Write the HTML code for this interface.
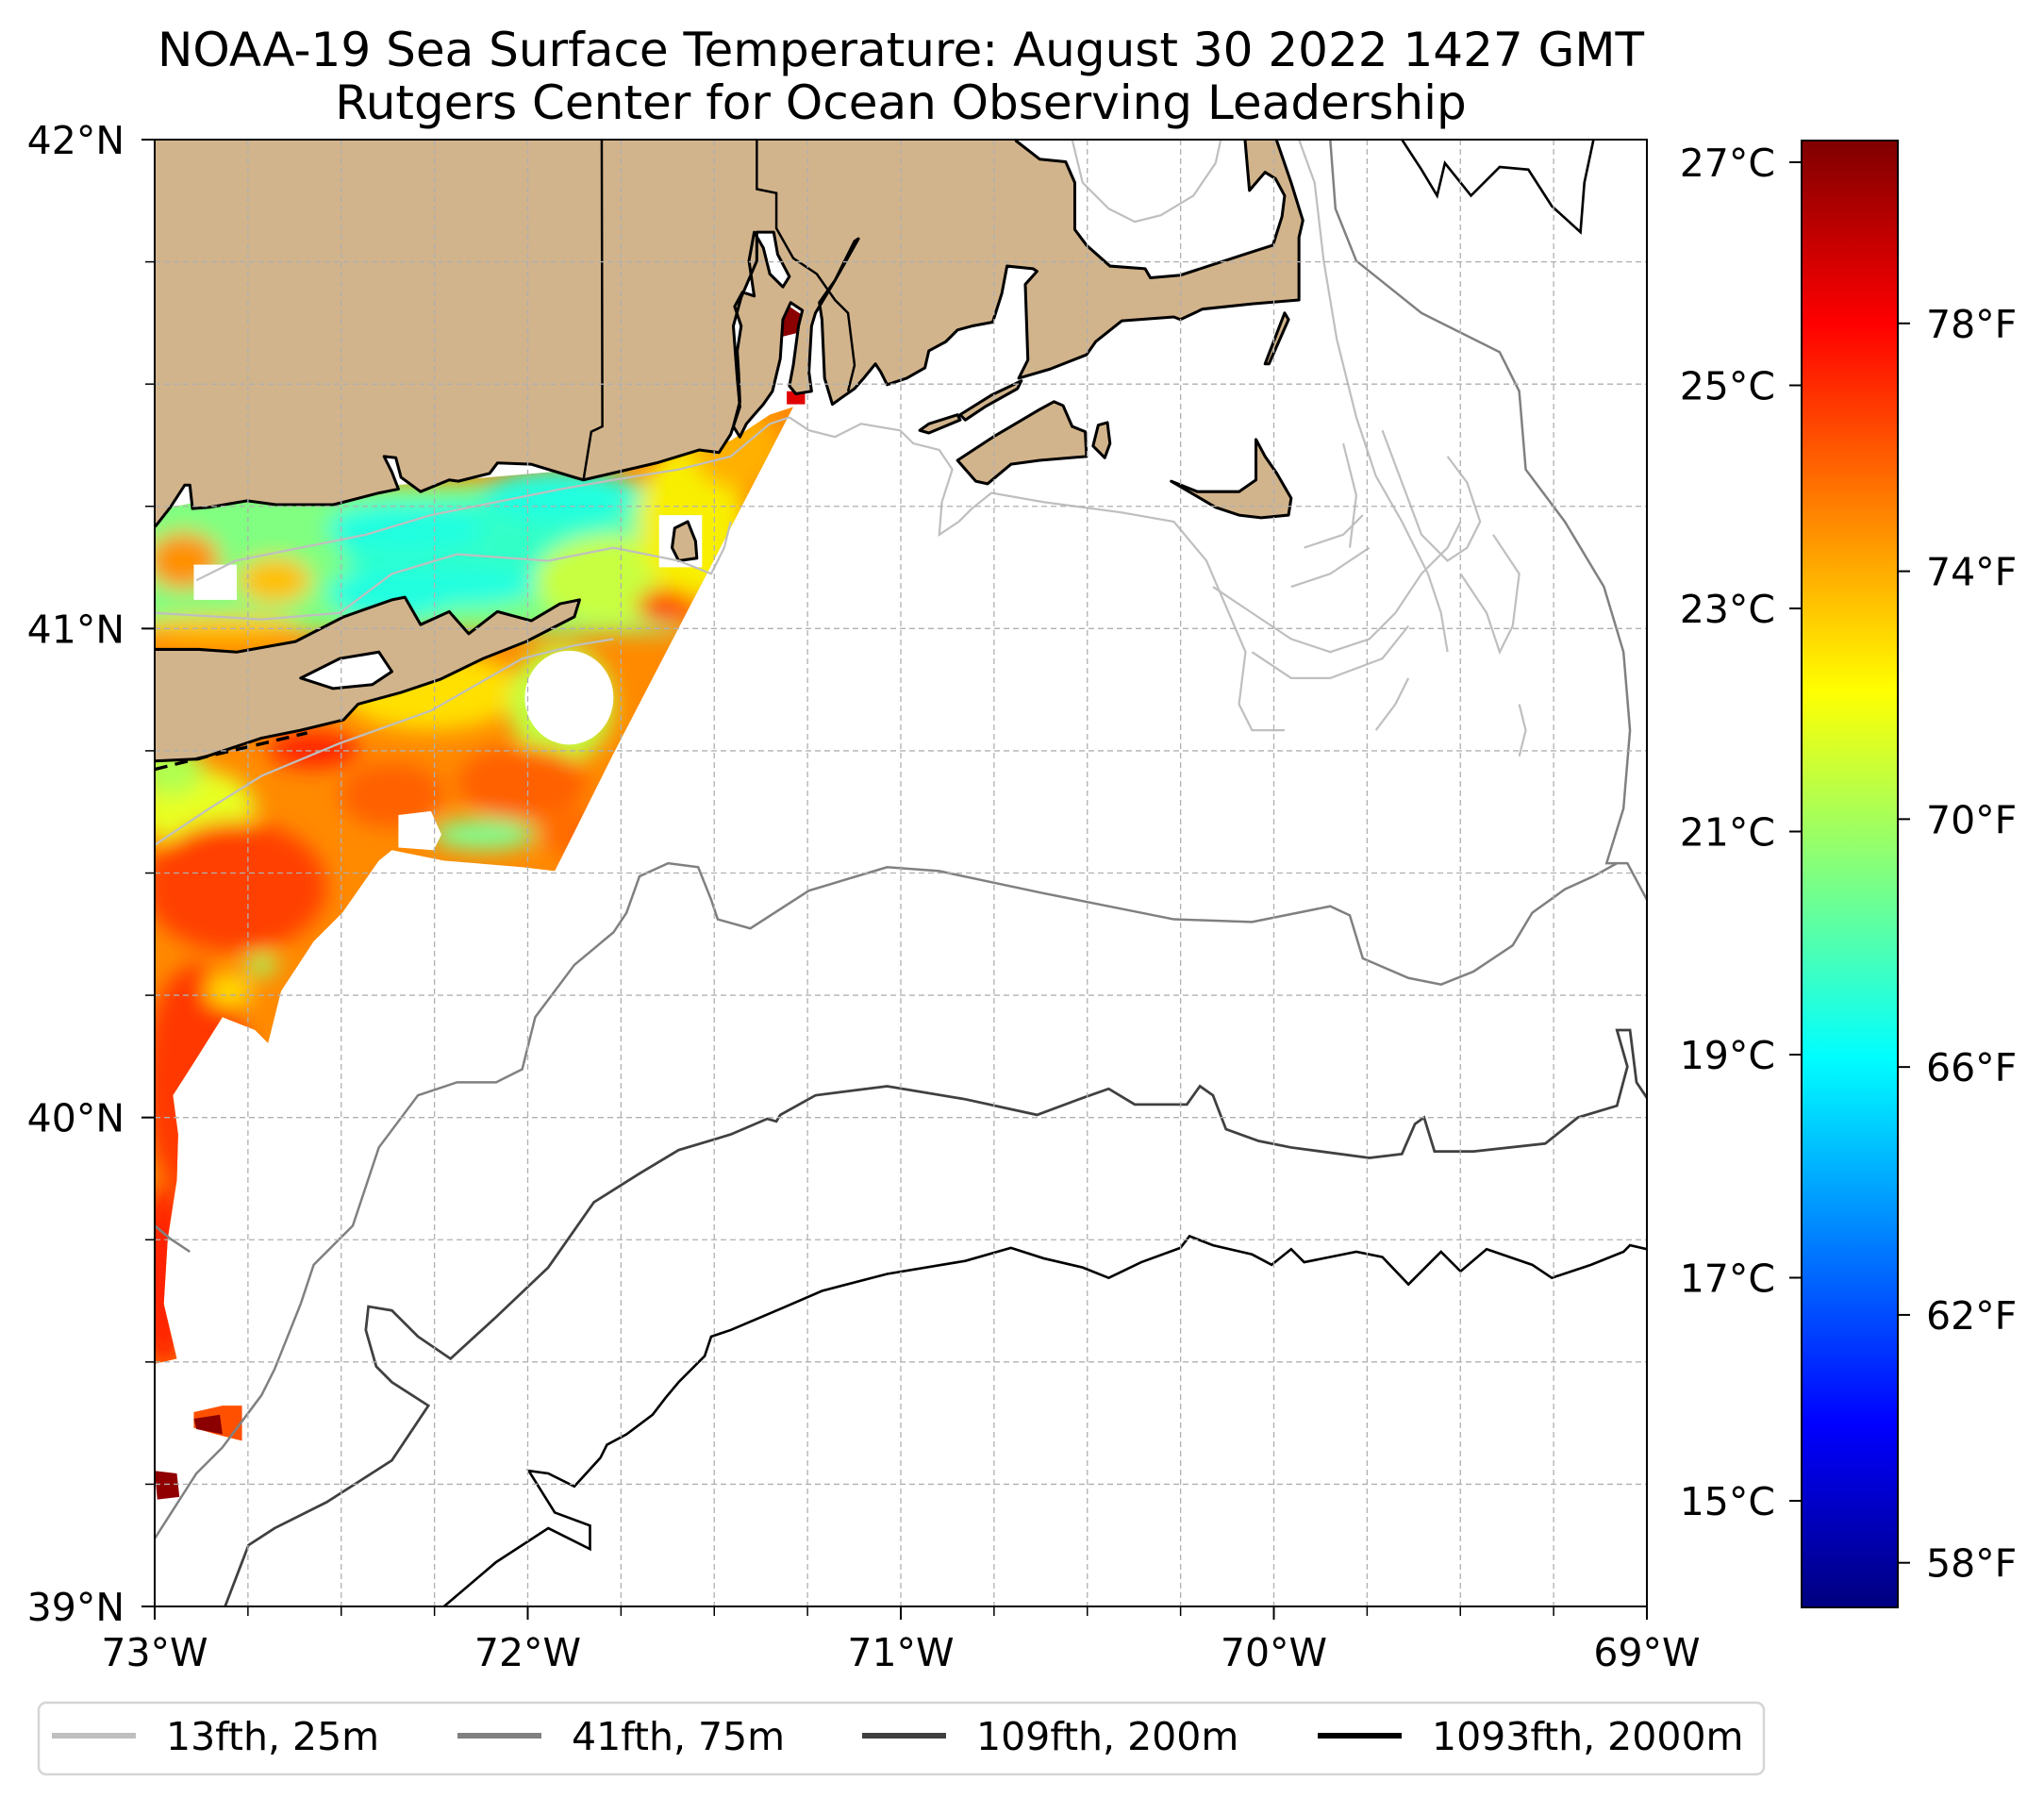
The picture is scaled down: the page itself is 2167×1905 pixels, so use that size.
<!DOCTYPE html>
<html><head><meta charset="utf-8"><style>
html,body{margin:0;padding:0;background:#fff;}
svg{display:block;font-family:"DejaVu Sans","Liberation Sans",sans-serif;}
</style></head>
<body>
<svg id="fig" width="2167" height="1905" viewBox="0 0 2167 1905" xmlns="http://www.w3.org/2000/svg">
<defs>
  <linearGradient id="jet" x1="0" y1="1" x2="0" y2="0">
    <stop offset="0" stop-color="#00007f"/>
    <stop offset="0.125" stop-color="#0000ff"/>
    <stop offset="0.375" stop-color="#00ffff"/>
    <stop offset="0.5" stop-color="#80ff80"/>
    <stop offset="0.625" stop-color="#ffff00"/>
    <stop offset="0.875" stop-color="#ff0000"/>
    <stop offset="1" stop-color="#7f0000"/>
  </linearGradient>
  <clipPath id="axclip"><rect x="164" y="148" width="1582" height="1555"/></clipPath>
  <clipPath id="sstclip">
    <path d="M118,392 L150,385 L445,360 L560,338 L590,318 L608,312 L470,578 L425,668 L400,665 L340,660 L300,652 L290,660 L262,700 L240,722 L215,760 L205,800 L195,790 L170,780 L148,815 L132,840 L136,870 L135,905 L128,950 L125,1000 L135,1042 L118,1046 Z"/>
  </clipPath>
  <filter id="blur" x="-50%" y="-50%" width="200%" height="200%"><feGaussianBlur stdDeviation="8"/></filter>
</defs>

<text x="955" y="70" font-size="50" text-anchor="middle">NOAA-19 Sea Surface Temperature: August 30 2022 1427 GMT</text>
<text x="955" y="126" font-size="50" text-anchor="middle">Rutgers Center for Ocean Observing Leadership</text>

<g clip-path="url(#axclip)">
 <g transform="translate(164,148) scale(1.3817,1.3822) translate(-118,-107)">
  <g clip-path="url(#sstclip)">
    <rect x="100" y="300" width="520" height="760" fill="#ff8a00"/>
    <g filter="url(#blur)">
      <rect x="100" y="370" width="420" height="115" fill="#80ff80"/>
      <ellipse cx="380" cy="420" rx="120" ry="38" fill="#30ffc8"/>
      <ellipse cx="310" cy="405" rx="60" ry="20" fill="#20ffe0"/>
      <ellipse cx="430" cy="380" rx="60" ry="20" fill="#20ffe0"/>
      <ellipse cx="350" cy="450" rx="60" ry="15" fill="#20ffe0"/>
      <ellipse cx="470" cy="445" rx="60" ry="35" fill="#c8ff40"/>
      <ellipse cx="300" cy="455" rx="50" ry="20" fill="#20ffe0"/>
      <ellipse cx="530" cy="400" rx="40" ry="60" fill="#f8f000"/>
      <ellipse cx="565" cy="345" rx="35" ry="30" fill="#ffb000"/>
      <ellipse cx="510" cy="465" rx="22" ry="14" fill="#ff5000"/>
      <ellipse cx="140" cy="430" rx="28" ry="22" fill="#ff9000"/>
      <ellipse cx="210" cy="445" rx="28" ry="18" fill="#ffc000"/>
      <ellipse cx="170" cy="482" rx="60" ry="10" fill="#ffc000"/>
      <ellipse cx="330" cy="530" rx="70" ry="30" fill="#ffe000"/>
      <ellipse cx="430" cy="540" rx="40" ry="45" fill="#c0ff40"/>
      <ellipse cx="150" cy="620" rx="45" ry="30" fill="#e8ff20"/>
      <ellipse cx="130" cy="590" rx="25" ry="20" fill="#b0ff50"/>
      <ellipse cx="370" cy="640" rx="40" ry="12" fill="#80ff90"/>
      <ellipse cx="240" cy="575" rx="35" ry="14" fill="#ff2800"/>
      <ellipse cx="180" cy="680" rx="70" ry="50" fill="#ff4000"/>
      <ellipse cx="300" cy="610" rx="40" ry="25" fill="#ff6000"/>
      <ellipse cx="400" cy="600" rx="50" ry="28" fill="#ff6000"/>
      <ellipse cx="440" cy="640" rx="25" ry="18" fill="#ff6a00"/>
      <ellipse cx="150" cy="830" rx="40" ry="90" fill="#ff3800"/>
      <ellipse cx="125" cy="980" rx="20" ry="70" fill="#ff2000"/>
      <ellipse cx="175" cy="760" rx="18" ry="12" fill="#ffe000"/>
      <ellipse cx="200" cy="740" rx="12" ry="8" fill="#a0ff60"/>
    </g>
    <rect x="148" y="433" width="33" height="27" fill="#fff"/>
    <ellipse cx="436" cy="535" rx="34" ry="36" fill="#fff"/>
    <path d="M305,625 L330,622 L338,640 L332,652 L305,650 Z" fill="#fff"/>
    <rect x="505" y="395" width="33" height="40" fill="#fff"/>
  </g>
  <path d="M148,1083 L170,1078 L185,1078 L185,1105 L165,1100 L148,1095 Z" fill="#ff5000"/>
  <path d="M148,1088 L168,1085 L170,1100 L150,1096 Z" fill="#8b0000"/>
  <path d="M118,1128 L135,1130 L137,1148 L120,1150 Z" fill="#900000"/>
  <path d="M570,228 L590,225 L605,235 L620,245 L612,255 L600,258 L598,280 L590,292 L580,290 L578,270 L572,250 Z" fill="#8b0000"/>
  <rect x="603" y="300" width="14" height="10" fill="#e00000"/>

  <g fill="#d2b48c" stroke="#000" stroke-width="2.2" stroke-linejoin="round">
   <path d="M110,100 L779,100 L779,108 L797,122 L817,124 L824,140 L824,176 L833,188 L851,204 L878,206 L882,213 L905,211 L954,195 L976,188 L983,166 L985,150 L978,137 L970,132 L958,146 L954,100 L979,100 L979,108 L990,140 L999,169 L996,182 L996,230 L960,233 L922,237 L905,245 L900,243 L860,246 L840,262 L833,272 L805,283 L781,290 L788,276 L786,218 L795,208 L792,206 L772,204 L768,225 L761,247 L745,250 L734,253 L725,262 L712,269 L709,282 L695,290 L680,295 L675,285 L671,279 L662,290 L655,298 L645,305 L638,310 L632,290 L630,245 L628,232 L640,215 L655,185 L658,183 L640,215 L625,240 L622,250 L620,285 L622,300 L610,302 L605,296 L608,280 L612,250 L615,238 L606,232 L600,245 L598,275 L592,300 L585,310 L578,318 L572,325 L567,335 L562,327 L567,308 L566,285 L565,269 L568,250 L563,235 L569,224 L578,227 L574,200 L578,178 L585,190 L590,210 L600,220 L605,212 L596,195 L593,178 L580,178 L580,200 L568,228 L562,250 L565,290 L567,312 L560,333 L551,347 L536,345 L503,355 L447,368 L440,366 L407,356 L381,355 L375,363 L351,369 L344,368 L322,377 L307,366 L303,351 L294,350 L300,362 L305,375 L290,378 L263,385 L255,387 L211,387 L189,384 L160,389 L147,390 L145,372 L141,372 L130,389 L119,403 L110,410 Z"/>
   <path d="M110,498 L152,498 L181,500 L226,492 L263,473 L300,460 L310,458 L322,479 L344,469 L359,486 L381,469 L407,476 L429,463 L444,460 L440,473 L403,492 L370,505 L337,521 L307,531 L274,540 L263,552 L230,560 L200,566 L170,576 L152,582 L110,584 Z"/>
   <path d="M230,520 L260,505 L290,500 L300,515 L285,525 L255,528 Z" fill="#fff"/>
   <path d="M517,405 L527,400 L533,415 L534,428 L520,430 L515,420 Z"/>
   <path d="M734,353 L748,369 L757,371 L775,356 L797,353 L833,350 L832,331 L822,327 L815,311 L808,308 L797,314 L775,327 L763,334 Z"/>
   <path d="M842,326 L849,324 L851,340 L847,351 L838,342 Z"/>
   <path d="M898,369 L918,377 L950,377 L963,368 L963,337 L970,350 L979,363 L990,382 L988,395 L967,397 L950,395 L932,389 Z"/>
   <path d="M705,330 L712,325 L734,318 L736,322 L712,332 Z M736,318 L760,303 L783,292 L780,298 L755,312 L740,322 Z"/>
   <path d="M970,279 L985,240 L988,245 L973,279 Z"/>
  </g>
  <path d="M461,100 L461.5,327 L453,331 L447,368" fill="none" stroke="#000" stroke-width="1.8"/>
  <path d="M580,100 L580,145 L595,148 L595,175 L608,198 L626,210 L640,230 L650,240 L655,280 L650,300" fill="none" stroke="#000" stroke-width="1.8"/>
  <path d="M118,590 L150,582 L180,575 L210,568 L235,562" fill="none" stroke="#000" stroke-width="2.5" stroke-dasharray="10,6"/>

  <g fill="none" stroke="#bfbfbf" stroke-width="1.6">
   <path d="M118,648 L160,620 L200,595 L260,570 L330,545 L400,505 L440,495 L470,490"/>
   <path d="M150,445 L180,430 L230,420 L280,410 L330,395 L380,385 L430,375 L470,368 L520,360 L560,350 L590,325 L605,320"/>
   <path d="M118,470 L200,475 L260,470 L300,440 L350,425 L420,430 L470,420 L520,430 L545,440 L555,420 L560,400"/>
   <path d="M605,320 L620,330 L640,335 L660,325 L690,330 L700,340 L720,345 L730,360 L722,385 L720,410 L735,400 L745,390 L760,378 L800,385 L860,393 L900,400 L925,430 L940,465 L955,500 L950,540 L960,560 L985,560"/>
   <path d="M822,107 L830,140 L850,160 L870,170 L890,165 L915,150 L932,125 L936,107"/>
   <path d="M996,107 L1008,140 L1015,200 L1025,260 L1040,320 L1055,365 L1075,400 L1095,440 L1105,470 L1110,500"/>
   <path d="M930,450 L960,470 L990,490 L1020,500 L1050,490 L1070,470 L1090,440 L1110,420 L1120,400"/>
   <path d="M960,500 L990,520 L1020,520 L1060,505 L1080,480"/>
   <path d="M1030,340 L1040,380 L1035,420 M1060,330 L1075,370 L1090,410 L1110,430 L1125,420 L1135,400 L1125,370 L1110,350"/>
   <path d="M1120,440 L1140,470 L1150,500 L1160,480 L1165,440 L1145,410"/>
   <path d="M1000,420 L1030,410 L1045,395 M990,450 L1020,440 L1050,420"/>
   <path d="M1165,540 L1170,560 L1165,580 M1055,560 L1070,540 L1080,520"/>
  </g>
  <g fill="none" stroke="#808080" stroke-width="1.8">
   <path d="M1020,107 L1024,160 L1040,200 L1090,240 L1150,270 L1165,300 L1170,360 L1200,400 L1230,450 L1245,500 L1250,560 L1245,620 L1232,662 L1248,662 L1263,690"/>
   <path d="M118,1180 L150,1130 L170,1110 L200,1070 L210,1050 L230,1000 L240,970 L270,940 L290,880 L320,840 L350,830 L380,830 L400,820 L410,780 L440,740 L470,715 L480,700 L490,672 L512,662 L535,665 L545,690 L550,705 L575,712 L620,683 L680,665 L720,668 L800,685 L900,705 L960,707 L1020,695 L1035,702 L1045,735 L1080,750 L1105,755 L1130,745 L1160,725 L1175,700 L1200,682 L1222,672 L1240,662"/>
   <path d="M118,940 L130,950 L145,960"/>
  </g>
  <g fill="none" stroke="#404040" stroke-width="2">
   <path d="M172,1232 L190,1185 L210,1172 L250,1152 L300,1120 L328,1078 L300,1060 L288,1048 L280,1020 L282,1002 L300,1005 L320,1025 L345,1042 L380,1010 L420,972 L455,922 L490,900 L520,882 L560,870 L588,858 L595,860 L598,855 L625,840 L680,833 L740,843 L795,855 L830,842 L850,835 L870,847 L910,847 L920,833 L930,840 L940,866 L965,875 L990,880 L1050,888 L1075,885 L1085,862 L1092,857 L1100,883 L1130,883 L1185,877 L1210,857 L1240,848 L1248,818 L1240,790 L1250,790 L1255,830 L1263,842"/>
  </g>
  <g fill="none" stroke="#000" stroke-width="1.9">
   <path d="M340,1232 L380,1198 L420,1172 L452,1188 L452,1170 L425,1160 L405,1128 L420,1130 L440,1140 L460,1118 L465,1108 L480,1100 L500,1085 L510,1072 L520,1060 L540,1040 L545,1025 L560,1020 L600,1003 L630,990 L680,977 L740,967 L775,957 L800,965 L830,972 L850,980 L875,968 L905,957 L912,948 L930,955 L960,962 L975,970 L990,958 L1000,968 L1040,960 L1060,964 L1080,985 L1095,970 L1105,960 L1120,975 L1140,958 L1175,970 L1190,980 L1220,970 L1245,960 L1250,955 L1263,958"/>
   <path d="M1075,107 L1090,130 L1102,150 L1108,125 L1128,150 L1150,128 L1172,130 L1190,158 L1212,178 L1215,140 L1222,107"/>
  </g>
 </g>
</g>

<g id="grid"></g>
<rect x="164" y="148" width="1582" height="1555" fill="none" stroke="#000" stroke-width="2"/>
<g id="axes"></g>

<rect x="1910" y="149" width="102" height="1555" fill="url(#jet)" stroke="#000" stroke-width="2"/>
<g id="cbar"></g>

<rect x="41" y="1805" width="1829" height="76" rx="8" fill="#fff" stroke="#d5d5d5" stroke-width="2.5"/>
<g id="legend"></g>

<script>
const lonTicks = [-73, -72, -71, -70, -69];
const latTicks = [42, 41, 40, 39];
const celsiusTicks = [15, 17, 19, 21, 23, 25, 27];
const fahrenheitTicks = [58, 62, 66, 70, 74, 78];
const legendLabels = ["13fth, 25m", "41fth, 75m", "109fth, 200m", "1093fth, 2000m"];
const legendColors = ["#bfbfbf", "#808080", "#404040", "#000000"];

const NS = "http://www.w3.org/2000/svg";
const ax = {x0:164, x1:1746, y0:148, y1:1703, lonMin:-73, lonMax:-69, latMin:39, latMax:42};
function xLon(l){return ax.x0 + (l-ax.lonMin)/(ax.lonMax-ax.lonMin)*(ax.x1-ax.x0);}
function yLat(l){return ax.y1 - (l-ax.latMin)/(ax.latMax-ax.latMin)*(ax.y1-ax.y0);}
const cb = {fMin:57.28, fMax:80.95, y0:149, y1:1704};
function yF(f){return cb.y1 - (f-cb.fMin)/(cb.fMax-cb.fMin)*(cb.y1-cb.y0);}
function el(tag, attrs, parent){const e=document.createElementNS(NS,tag);for(const k in attrs)e.setAttribute(k,attrs[k]);parent.appendChild(e);return e;}

const grid = document.getElementById('grid');
const axes = document.getElementById('axes');
for(let l=-73; l<=-69.001; l+=0.25){
  const x = xLon(l);
  if(l>-73){
    const g = el('line',{x1:x,y1:ax.y0,x2:x,y2:ax.y1,stroke:'#b0b0b0','stroke-width':1.3,'stroke-dasharray':'6,4'},grid);
    
    
  }
  const t = el('line',{x1:x,y1:ax.y1,x2:x,y2:ax.y1+10,stroke:'#000','stroke-width':1.5},axes);
  
  
}
for(let l=39.25; l<=41.76; l+=0.25){
  const y = yLat(l);
  const g = el('line',{x1:ax.x0,y1:y,x2:ax.x1,y2:y,stroke:'#b0b0b0','stroke-width':1.3,'stroke-dasharray':'6,4'},grid);
  
  
  const t = el('line',{x1:ax.x0-10,y1:y,x2:ax.x0,y2:y,stroke:'#000','stroke-width':1.5},axes);
  
  
}
lonTicks.forEach(l=>{
  const x = xLon(l);
  const t = el('line',{x1:x,y1:ax.y1,x2:x,y2:ax.y1+14,stroke:'#000','stroke-width':2},axes);
  
  
  const tx = el('text',{x:x,y:1766,'font-size':41,'text-anchor':'middle'},axes);
  tx.textContent = Math.abs(l)+'°W';
  
  
});
latTicks.forEach(l=>{
  const y = yLat(l);
  const t = el('line',{x1:ax.x0-14,y1:y,x2:ax.x0,y2:y,stroke:'#000','stroke-width':2},axes);
  
  
  const tx = el('text',{x:132,y:y+15,'font-size':41,'text-anchor':'end'},axes);
  tx.textContent = l+'°N';
  
  
});

const cbar = document.getElementById('cbar');
celsiusTicks.forEach(c=>{
  const y = yF(c*9/5+32);
  const t = el('line',{x1:1897,y1:y,x2:1910,y2:y,stroke:'#000','stroke-width':2},cbar);
  
  
  const tx = el('text',{x:1882,y:y+15,'font-size':41,'text-anchor':'end'},cbar);
  tx.textContent = c+'°C';
  
  
});
fahrenheitTicks.forEach(f=>{
  const y = yF(f);
  const t = el('line',{x1:2012,y1:y,x2:2025,y2:y,stroke:'#000','stroke-width':2},cbar);
  
  
  const tx = el('text',{x:2042,y:y+15,'font-size':41,'text-anchor':'start'},cbar);
  tx.textContent = f+'°F';
  
  
});

const leg = document.getElementById('legend');
const legX = [55, 485, 914, 1397];
legendLabels.forEach((lab,i)=>{
  const l = el('line',{x1:legX[i],y1:1840,x2:legX[i]+89,y2:1840,stroke:legendColors[i],'stroke-width':6},leg);
  
  
  const tx = el('text',{x:legX[i]+121,y:1855,'font-size':41},leg);
  tx.textContent = lab;
  
  
});
</script>
</svg>
</body></html>
